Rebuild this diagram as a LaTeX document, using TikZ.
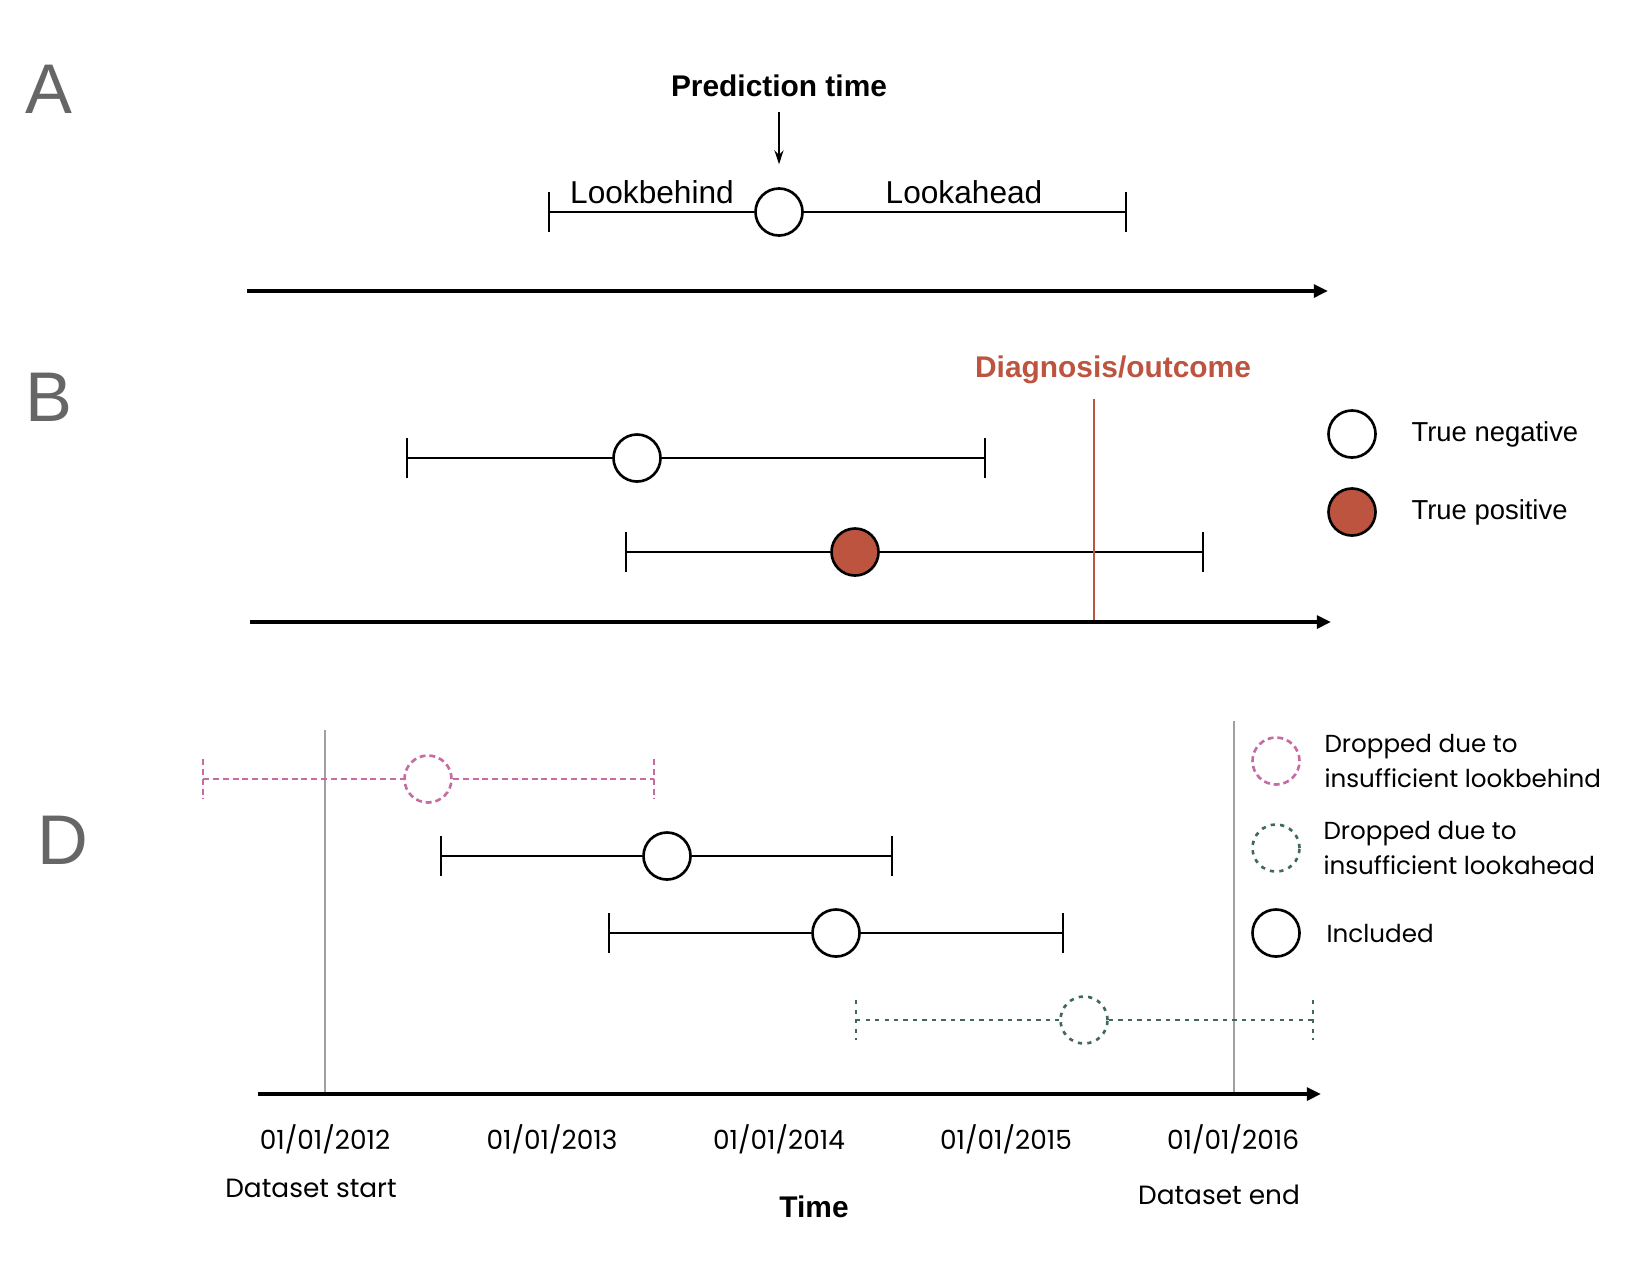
\documentclass[tikz,border=0pt]{standalone}
\usepackage{fontspec}
\setmainfont{Liberation Sans}
\newfontfamily\poppins{Poppins}
\usetikzlibrary{arrows.meta, positioning}

\definecolor{outcome}{HTML}{BC5440}
\definecolor{lbpink}{HTML}{C96BA3}
\definecolor{lagreen}{HTML}{3F6A5B}
\definecolor{panelgray}{HTML}{666666}
\definecolor{limitgray}{HTML}{A0A0A0}

\begin{document}
\begin{tikzpicture}[x=0.01cm, y=-0.01cm,
  point/.style={circle, draw, line width=0.75pt, fill=white, minimum size=0.47cm, inner sep=0pt},
  positive/.style={point, fill=outcome},
  dropbehind/.style={point, draw=lbpink, dash pattern=on 1.7pt off 1.1pt},
  dropahead/.style={point, draw=lagreen, dash pattern=on 1.2pt off 1.5pt},
  window/.style={line width=0.6pt},
  endbar/.style={line width=0.6pt},
  axis/.style={line width=1pt, -{Triangle[length=4pt, width=3.6pt]}},
  limit/.style={limitgray, line width=0.7pt},
  panel/.style={text=panelgray, font=\fontsize{20}{24}\selectfont, inner sep=0pt},
  txt/.style={inner sep=0pt, font=\fontsize{9}{11}\selectfont},
  boldtxt/.style={inner sep=0pt, font=\fontsize{8.5}{10}\selectfont\bfseries},
  keytxt/.style={inner sep=0pt, anchor=west, font=\fontsize{7.8}{10}\selectfont},
  ptxt/.style={inner sep=0pt, font=\poppins\fontsize{7.5}{9.7}\selectfont},
  keyptxt/.style={inner sep=0pt, anchor=west, align=left, font=\poppins\fontsize{7}{9.7}\selectfont},
  node distance=0.34cm]
  \useasboundingbox (0,0) rectangle (1646,1272);

  % A: prediction time with lookbehind and lookahead
  \node[panel] (lblA) at (49,89) {A};
  \node[boldtxt] (predtime) at (779,86) {Prediction time};
  \node[point] (pA) at (779,212) {};
  \coordinate (lbA) at (549,212);
  \coordinate (laA) at (1126,212);
  \node[txt, anchor=base] (lookbehind) at (652,203) {Lookbehind};
  \node[txt, anchor=base] (lookahead) at (964,203) {Lookahead};
  \draw[-{Stealth[length=4pt, width=2.6pt]}, line width=0.5pt, shorten <=4pt, shorten >=6.5pt] (predtime) -- (pA);
  \draw[window] (lbA) -- (pA) -- (laA);
  \draw[endbar] (lbA) ++(0,-20) -- ++(0,40);
  \draw[endbar] (laA) ++(0,-20) -- ++(0,40);
  \coordinate (tA0) at (247,291);
  \coordinate (tA1) at (1328,291);
  \draw[axis] (tA0) -- (tA1);

  % B: true negative / true positive
  \node[panel] (lblB) at (49,397) {B};
  \node[boldtxt, text=outcome] (diag) at (1113,370) {Diagnosis/outcome};
  \coordinate (dxtop) at (1094,399);
  \coordinate (dxbot) at (1094,622);
  \node[point] (pB1) at (637,458) {};
  \coordinate (lbB1) at (407,458);
  \coordinate (laB1) at (985,458);
  \node[positive] (pB2) at (855,552) {};
  \coordinate (lbB2) at (626,552);
  \coordinate (laB2) at (1203,552);
  \draw[window] (lbB1) -- (pB1) -- (laB1);
  \draw[window] (lbB2) -- (pB2) -- (laB2);
  \draw[endbar] (lbB1) ++(0,-20) -- ++(0,40);
  \draw[endbar] (laB1) ++(0,-20) -- ++(0,40);
  \draw[endbar] (lbB2) ++(0,-20) -- ++(0,40);
  \draw[endbar] (laB2) ++(0,-20) -- ++(0,40);
  \draw[outcome, line width=0.6pt] (dxtop) -- (dxbot);
  \coordinate (tB0) at (250,622);
  \coordinate (tB1) at (1331,622);
  \draw[axis] (tB0) -- (tB1);
  \node[point] (keyTN) at (1352,434) {};
  \node[keytxt, right=of keyTN] (txtTN) {True negative};
  \node[positive] (keyTP) at (1352,512) {};
  \node[keytxt, right=of keyTP] (txtTP) {True positive};

  % D: dataset limits
  \node[panel] (lblD) at (63,840) {D};
  \coordinate (dstop) at (325,730);
  \coordinate (dsbot) at (325,1094);
  \coordinate (detop) at (1234,721);
  \coordinate (debot) at (1234,1094);
  \draw[limit] (dstop) -- (dsbot);
  \draw[limit] (detop) -- (debot);
  \node[dropbehind] (pD1) at (428,779) {};
  \coordinate (lbD1) at (203,779);
  \coordinate (laD1) at (654,779);
  \node[point] (pD2) at (667,856) {};
  \coordinate (lbD2) at (441,856);
  \coordinate (laD2) at (892,856);
  \node[point] (pD3) at (836,933) {};
  \coordinate (lbD3) at (609,933);
  \coordinate (laD3) at (1063,933);
  \node[dropahead] (pD4) at (1084,1020) {};
  \coordinate (lbD4) at (856,1020);
  \coordinate (laD4) at (1313,1020);
  \draw[window, lbpink, dash pattern=on 1.7pt off 1.1pt] (lbD1) -- (pD1) -- (laD1);
  \draw[endbar, lbpink, dash pattern=on 1.7pt off 1.1pt] (lbD1) ++(0,-20) -- ++(0,40);
  \draw[endbar, lbpink, dash pattern=on 1.7pt off 1.1pt] (laD1) ++(0,-20) -- ++(0,40);
  \draw[window] (lbD2) -- (pD2) -- (laD2);
  \draw[endbar] (lbD2) ++(0,-20) -- ++(0,40);
  \draw[endbar] (laD2) ++(0,-20) -- ++(0,40);
  \draw[window] (lbD3) -- (pD3) -- (laD3);
  \draw[endbar] (lbD3) ++(0,-20) -- ++(0,40);
  \draw[endbar] (laD3) ++(0,-20) -- ++(0,40);
  \draw[window, lagreen, dash pattern=on 1.2pt off 1.5pt] (lbD4) -- (pD4) -- (laD4);
  \draw[endbar, lagreen, dash pattern=on 1.2pt off 1.5pt] (lbD4) ++(0,-20) -- ++(0,40);
  \draw[endbar, lagreen, dash pattern=on 1.2pt off 1.5pt] (laD4) ++(0,-20) -- ++(0,40);
  \coordinate (tD0) at (258,1094);
  \coordinate (tD1) at (1321,1094);
  \draw[axis] (tD0) -- (tD1);
  \node[ptxt] (d2012) at (325,1139) {01/01/2012};
  \node[ptxt] (d2013) at (552,1139) {01/01/2013};
  \node[ptxt] (d2014) at (779,1139) {01/01/2014};
  \node[ptxt] (d2015) at (1006,1139) {01/01/2015};
  \node[ptxt] (d2016) at (1233,1139) {01/01/2016};
  \node[ptxt] (dsstart) at (311,1188) {Dataset start};
  \node[boldtxt] (time) at (814,1207) {Time};
  \node[ptxt] (dsend) at (1219,1195) {Dataset end};
  \node[dropbehind] (keyLB) at (1276,761) {};
  \node[keyptxt, right=0.23cm of keyLB] (txtLB) {Dropped due to\\insufficient lookbehind};
  \node[dropahead] (keyLA) at (1276,848) {};
  \node[keyptxt, right=0.22cm of keyLA] (txtLA) {Dropped due to\\insufficient lookahead};
  \node[point] (keyInc) at (1276,933) {};
  \node[keyptxt, right=0.25cm of keyInc] (txtInc) {Included};
\end{tikzpicture}
\end{document}
